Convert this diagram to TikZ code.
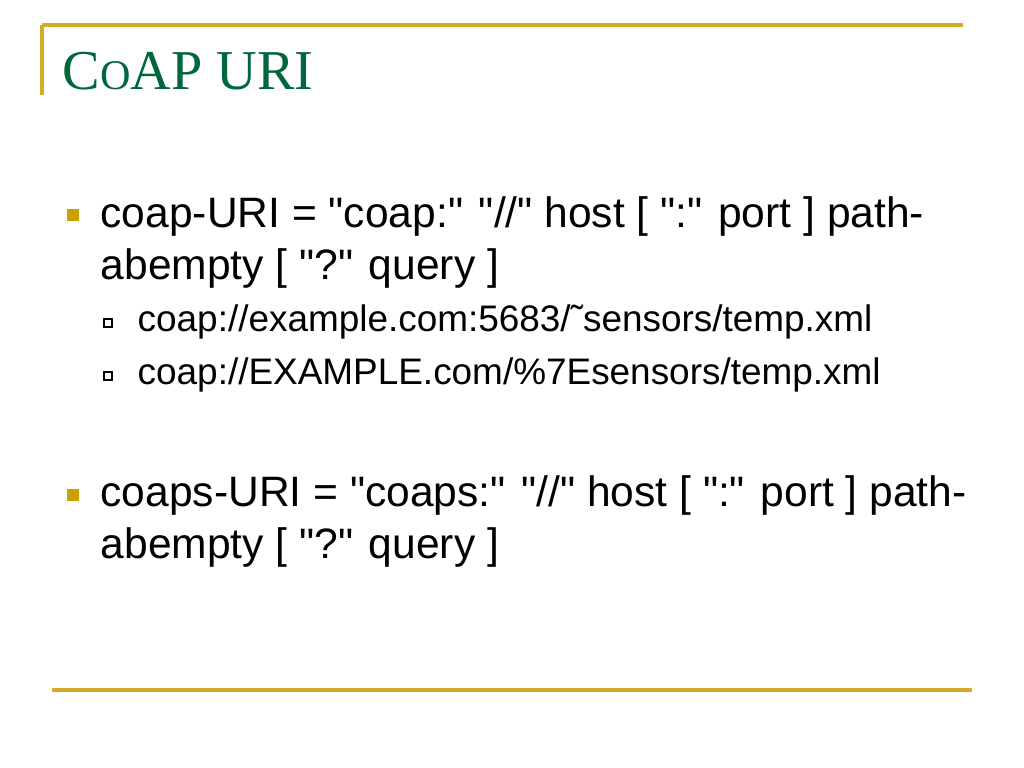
\documentclass[tikz,border=0pt]{standalone}
\usepackage{fontspec}
\setmainfont{Liberation Sans}
\newfontfamily\titlefont{Liberation Serif}
\usetikzlibrary{positioning}
\definecolor{rulegold}{RGB}{212,170,40}
\definecolor{titlegreen}{RGB}{0,102,60}
\definecolor{bulletgold}{RGB}{204,160,0}
\newcommand\qq{\textquotedbl}

\begin{document}
\begin{tikzpicture}[
    x=0.01cm, y=-0.01cm,
    item/.style={anchor=base west, inner sep=0pt, font=\fontsize{12.1}{15}\selectfont},
    subitem/.style={anchor=base west, inner sep=0pt, font=\fontsize{10.5}{12}\selectfont},
    bullet/.style={rectangle, fill=bulletgold, minimum size=0.115cm, inner sep=0pt},
    subbullet/.style={rectangle, draw=black, line width=0.5pt, minimum size=0.08cm, inner sep=0pt}
]
    \useasboundingbox (0,0) rectangle (1024,768);
    % frame rules
    \draw[rulegold, line width=1.2pt] (42,25) -- (963,25);
    \draw[rulegold, line width=1.2pt] (42,25) -- (42,95);
    \draw[rulegold, line width=1.2pt] (52,690) -- (972,690);
    % title
    \node[anchor=base west, inner sep=0pt, text=titlegreen, font=\titlefont\fontsize{16}{19}\selectfont] (title) at (62,90) {C{\fontsize{12}{15}\selectfont O}AP URI};
    % first item
    \node[bullet] (b1) at (73,215) {};
    \node[item] (l1) at (100,228) {coap-URI = \qq coap:\qq{} \qq//\qq{} host [ \qq:\qq{} port ] path-};
    \node[item] (l2) at (100,280) {abempty [ \qq?\qq{} query ]};
    \node[subbullet] (s1) at (108,323) {};
    \node[subitem] (e1) at (137,332) {coap://example.com:5683/\char"02DC sensors/temp.xml};
    \node[subbullet] (s2) at (108,376) {};
    \node[subitem] (e2) at (137,385) {coap://EXAMPLE.com/\%7Esensors/temp.xml};
    % second item
    \node[bullet] (b2) at (73,495) {};
    \node[item] (l3) at (100,507) {coaps-URI = \qq coaps:\qq{} \qq//\qq{} host [ \qq:\qq{} port ] path-};
    \node[item] (l4) at (100,559) {abempty [ \qq?\qq{} query ]};
\end{tikzpicture}
\end{document}
